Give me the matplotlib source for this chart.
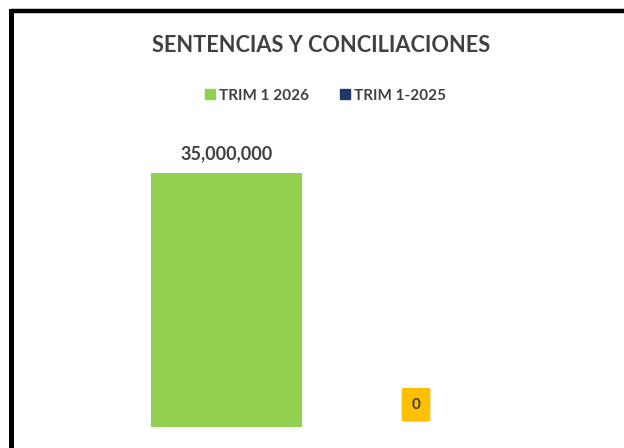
import matplotlib
matplotlib.use("Agg")
import matplotlib.pyplot as plt
from matplotlib.patches import Rectangle
from matplotlib.lines import Line2D

title = "SENTENCIAS Y CONCILIACIONES"
series_names = ["TRIM 1 2026", "TRIM 1-2025"]
values = [35000000, 0]
colors = ["#92D050", "#203864"]
label_texts = ["35,000,000", "0"]

FONT = ["Lato", "DejaVu Sans"]
TXT = "#404040"

fig = plt.figure(figsize=(6.24, 4.48), dpi=100)
fig.patch.set_facecolor("white")

W, H = 624, 448
ax = fig.add_axes([0, 1 - 427 / H, 1, (427 - 173) / H])
ax.set_ylim(0, values[0])
# green centre at x=226.7px, blue centre at x=416px
upp = 1 / 189.3
ax.set_xlim(-226.7 * upp, 1 + (624 - 416) * upp)
ax.axis("off")

bars = ax.bar(range(len(values)), values, width=0.8, color=colors)

# data labels
ax.annotate(label_texts[0], xy=(0, values[0]), xytext=(0, 8), textcoords="offset points",
            ha="center", va="bottom", fontsize=13, fontweight="bold", color=TXT,
            family=FONT, annotation_clip=False)
ax.annotate(label_texts[1], xy=(1, values[1]), xytext=(0, 16), textcoords="offset points",
            ha="center", va="center", fontsize=11, fontweight="bold", color=TXT,
            family=FONT, annotation_clip=False,
            bbox=dict(boxstyle="round,pad=0.65,rounding_size=0.15", fc="#FFC000", ec="none"))

fig.text(321 / W, 1 - 46 / H, title, ha="center", va="center", fontsize=15.7,
         fontweight="bold", color=TXT, family=FONT)

handles = [Rectangle((0, 0), 1, 1, color=c) for c in colors]
fig.legend(handles, series_names, loc="center", bbox_to_anchor=(325.5 / W, 1 - 95.5 / H),
           ncol=2, frameon=False, handlelength=0.65, handleheight=0.65, handletextpad=0.3,
           columnspacing=2.0, prop=dict(family=FONT, weight="bold", size=11),
           labelcolor=TXT)

# chart border (left and top)
fig.add_artist(Line2D([10.5 / W, 10.5 / W], [0, 1 - 11 / H], transform=fig.transFigure,
                      color="black", lw=3.6, solid_capstyle="projecting"))
fig.add_artist(Line2D([10.5 / W, 1], [1 - 11 / H, 1 - 11 / H], transform=fig.transFigure,
                      color="black", lw=3.2, solid_capstyle="butt"))

fig.savefig("out.png", dpi=100)
